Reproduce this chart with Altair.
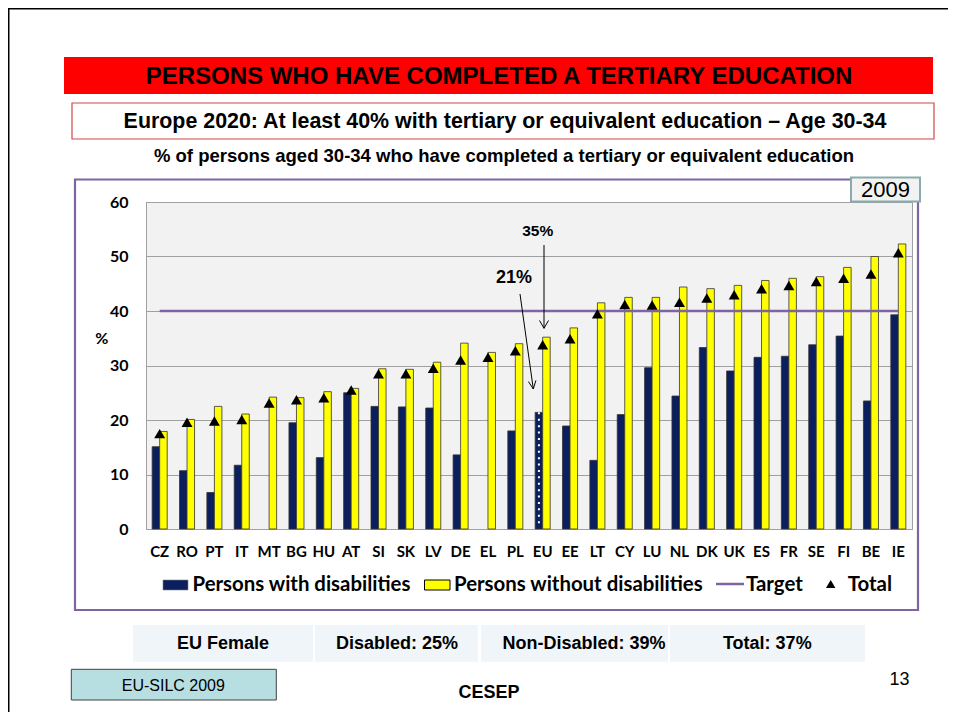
import altair as alt
import pandas as pd

# ---------------- data ----------------
countries = ["CZ", "RO", "PT", "IT", "MT", "BG", "HU", "AT", "SI", "SK", "LV", "DE", "EL", "PL",
             "EU", "EE", "LT", "CY", "LU", "NL", "DK", "UK", "ES", "FR", "SE", "FI", "BE", "IE"]
with_disab = [15.1, 10.7, 6.7, 11.7, None, 19.5, 13.1, 25.0, 22.5, 22.4, 22.2, 13.6, None, 18.0,
              21.4, 18.9, 12.6, 21.0, 29.6, 24.4, 33.3, 29.0, 31.5, 31.7, 33.8, 35.4, 23.5, 39.3]
without_disab = [17.9, 20.1, 22.5, 21.1, 24.2, 24.1, 25.2, 25.8, 29.4, 29.3, 30.6, 34.1, 32.4, 34.0,
                 35.2, 36.9, 41.5, 42.5, 42.5, 44.4, 44.1, 44.7, 45.6, 46.0, 46.3, 48.0, 50.0, 52.3]
total = [17.5, 19.6, 19.8, 20.1, 23.1, 23.7, 24.1, 25.5, 28.5, 28.5, 29.5, 31.0, 31.5, 32.7,
         33.8, 34.9, 39.5, 41.2, 41.1, 41.6, 42.4, 43.0, 44.1, 44.7, 45.4, 46.0, 46.8, 50.7]
target = 40
y_ticks = [0, 10, 20, 30, 40, 50, 60]
series_names = ["Persons with disabilities", "Persons without disabilities"]
highlight = "EU"

title_main = "PERSONS WHO HAVE COMPLETED A TERTIARY EDUCATION"
title_box = "Europe 2020: At least 40% with tertiary or equivalent education \u2013 Age 30-34"
subtitle = "% of persons aged 30-34 who have completed a tertiary or equivalent education"
year_label = "2009"
table_cells = ["EU Female", "Disabled: 25%", "Non-Disabled: 39%", "Total: 37%"]
source_label = "EU-SILC 2009"
footer_label = "CESEP"
page_label = "13"
annot = [("35%", 15.5), ("21%", 18)]

# ---------------- tables ----------------
rows = []
for c, a, b in zip(countries, with_disab, without_disab):
    if a is not None:
        rows.append({"country": c, "series": series_names[0], "value": a})
    rows.append({"country": c, "series": series_names[1], "value": b})
bars_df = pd.DataFrame(rows)
total_df = pd.DataFrame({"country": countries, "value": total})
target_df = pd.DataFrame({"country": countries, "value": [target] * len(countries)})
eu_df = bars_df[(bars_df.country == highlight) & (bars_df.series == series_names[0])]

NAVY = "#0B1F5E"
YELLOW = "#FFFF00"
PURPLE = "#8064A2"
GRID = "#A0A0A0"
AX_FONT = "Lato"
TXT_FONT = "Liberation Sans"

# plot-area origin on the page
OX, OY = 146, 202
W, H = 766, 327

x_enc = alt.X("country:N", sort=countries,
              scale=alt.Scale(paddingInner=0.45, paddingOuter=0.225),
              axis=alt.Axis(title=None, labelAngle=0, labelFont=AX_FONT, labelFontWeight="bold",
                            labelFontSize=15, labelColor="black", labelPadding=15, ticks=False,
                            domainColor=GRID, labelOverlap=False, grid=False))
y_enc = alt.Y("value:Q", scale=alt.Scale(domain=[0, 60], nice=False),
              axis=alt.Axis(title=None, values=y_ticks, labelFont=AX_FONT, labelFontWeight="bold",
                            labelFontSize=16, labelColor="black", labelPadding=18, ticks=False,
                            domainColor=GRID, gridColor=GRID, gridWidth=1))

bars = alt.Chart(bars_df).mark_bar(stroke="#333333", strokeWidth=0.8).encode(
    x=x_enc,
    xOffset=alt.XOffset("series:N", sort=series_names,
                        scale=alt.Scale(paddingInner=0, paddingOuter=0)),
    y=y_enc,
    color=alt.Color("series:N", scale=alt.Scale(domain=series_names, range=[NAVY, YELLOW]),
                    legend=None),
)

eu_dots = alt.Chart(eu_df).mark_rule(color="white", strokeDash=[2, 4.4], strokeWidth=2,
                                     xOffset=-3.76).encode(x=x_enc, y=y_enc, y2=alt.datum(0.8))

target_line = alt.Chart(target_df).mark_line(color=PURPLE, strokeWidth=2.5).encode(x=x_enc, y=y_enc)

tri = alt.Chart(total_df).mark_point(shape="triangle-up", filled=True, fill="black", size=120,
                                     opacity=1, strokeWidth=0).encode(x=x_enc, y=y_enc)

# ---------------- decorations (page pixel positions) ----------------
base = alt.Chart(pd.DataFrame({"d": [0]}))


def rect(x1, y1, x2, y2, **kw):
    return base.mark_rect(**kw).encode(x=alt.value(x1 - OX), x2=alt.value(x2 - OX),
                                       y=alt.value(y1 - OY), y2=alt.value(y2 - OY))


def text(x, y, s, **kw):
    kw.setdefault("align", "center")
    kw.setdefault("baseline", "middle")
    kw.setdefault("color", "black")
    return base.mark_text(text=s, **kw).encode(x=alt.value(x - OX), y=alt.value(y - OY))


def seg(x1, y1, x2, y2, **kw):
    return base.mark_rule(**kw).encode(x=alt.value(x1 - OX), x2=alt.value(x2 - OX),
                                       y=alt.value(y1 - OY), y2=alt.value(y2 - OY))


deco = []
# slide border
deco.append(rect(8.5, 8.5, 1100, 900, fillOpacity=0, stroke="black", strokeWidth=2))
# red banner
deco.append(rect(64, 57, 933, 94, fill="#FF0000"))
deco.append(text(499, 76.5, title_main, font=TXT_FONT, fontWeight="bold", fontSize=24))
# boxed subtitle
deco.append(rect(72, 103, 934, 139, fill="white", stroke="#D64545", strokeWidth=1.2))
deco.append(text(505, 122, title_box, font=TXT_FONT, fontWeight="bold", fontSize=21.4))
deco.append(text(504, 156, subtitle, font=TXT_FONT, fontWeight="bold", fontSize=18.5))
# chart frame
deco.append(rect(75, 179.5, 918, 610, fillOpacity=0, stroke=PURPLE, strokeWidth=2.2))
# year box
deco.append(rect(851, 177.5, 920, 201.5, fill="#F2F2F2", stroke="#8AABAB", strokeWidth=2))
deco.append(text(885.5, 190, year_label, font=TXT_FONT, fontSize=22))
# y title
deco.append(text(101.7, 339, "%", font=AX_FONT, fontWeight="bold", fontSize=16))
# annotations
deco.append(text(537.7, 231, annot[0][0], font=TXT_FONT, fontWeight="bold", fontSize=annot[0][1]))
deco.append(text(514, 278.3, annot[1][0], font=TXT_FONT, fontWeight="bold", fontSize=annot[1][1]))
deco.append(seg(544, 245, 544, 328.3, color="black", strokeWidth=1))
deco.append(seg(544, 328.3, 539.5, 320.5, color="black", strokeWidth=1))
deco.append(seg(544, 328.3, 548.5, 320.5, color="black", strokeWidth=1))
deco.append(seg(520, 294, 533.3, 389, color="black", strokeWidth=1))
deco.append(seg(533.3, 389, 535.9, 380.4, color="black", strokeWidth=1))
deco.append(seg(533.3, 389, 528.4, 381.5, color="black", strokeWidth=1))
# legend
LEG = 20.4
deco.append(rect(163, 580, 188, 590, fill=NAVY, stroke="#7F7F7F", strokeWidth=0.6))
deco.append(text(192.5, 585, series_names[0], align="left", font=AX_FONT, fontWeight="bold", fontSize=LEG))
deco.append(rect(424.5, 580, 450, 590, fill=YELLOW, stroke="black", strokeWidth=1))
deco.append(text(454, 585, series_names[1], align="left", font=AX_FONT, fontWeight="bold", fontSize=LEG))
deco.append(seg(716, 584, 744, 584, color=PURPLE, strokeWidth=2.5))
deco.append(text(746, 585, "Target", align="left", font=AX_FONT, fontWeight="bold", fontSize=LEG))
deco.append(base.mark_point(shape="triangle-up", filled=True, fill="black", size=90, opacity=1,
                            strokeWidth=0).encode(x=alt.value(830.7 - OX), y=alt.value(584 - OY)))
deco.append(text(847.7, 585, "Total", align="left", font=AX_FONT, fontWeight="bold", fontSize=LEG))
# bottom table
cells = [(133, 313, 223), (315, 478, 397), (481, 668, 584), (670, 865, 767.3)]
for (a, b, c), lab in zip(cells, table_cells):
    deco.append(rect(a, 625, b, 661.7, fill="#EFF5F9"))
    deco.append(text(c, 644, lab, font=TXT_FONT, fontWeight="bold", fontSize=18))
# source box & footer
deco.append(rect(71.3, 669.3, 276.3, 700, fill="#B7DFE2", stroke="#404040", strokeWidth=1))
deco.append(text(173.3, 686, source_label, font=TXT_FONT, fontSize=16))
deco.append(text(489, 693, footer_label, font=TXT_FONT, fontWeight="bold", fontSize=18))
deco.append(text(899.5, 680, page_label, font=TXT_FONT, fontSize=18))

chart = alt.layer(bars, eu_dots, target_line, tri, *deco).properties(
    width=W, height=H,
    autosize=alt.AutoSizeParams(type="none"),
    padding={"left": OX - 8, "top": OY - 8, "right": 940 - (OX - 8) - W, "bottom": 704 - (OY - 8) - H},
    background="white",
).configure_view(fill="#F2F2F2", stroke=GRID, strokeWidth=1)

chart.save("out.html", embed_options={"renderer": "svg", "actions": False})
